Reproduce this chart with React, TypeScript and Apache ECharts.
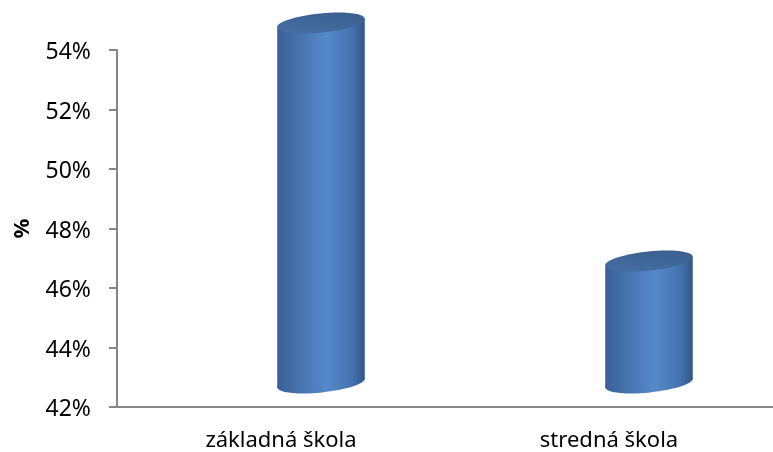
import React, { useEffect, useRef } from "react";
import * as echarts from "echarts";

const categories = ["základná škola", "stredná škola"];
const values = [54.1, 46.1];
const yTicks = [42, 44, 46, 48, 50, 52, 54];

export default function App() {
  const ref = useRef<HTMLDivElement>(null);
  useEffect(() => {
    if (!ref.current) return;
    const chart = echarts.init(ref.current, undefined, { renderer: "svg" });
    const DX = 40;
    const DY = -24;
    const RX = 44;
    const RY = 9.5;
    const TH = 0.1;
    const sideGrad = () =>
      new echarts.graphic.LinearGradient(0, 0, 1, 0, [
        { offset: 0, color: "#3a6097" },
        { offset: 0.55, color: "#5589cb" },
        { offset: 0.85, color: "#4573b0" },
        { offset: 1, color: "#325687" },
      ]);
    chart.setOption({
      animation: false,
      grid: { left: 117, right: 0, top: 50, bottom: 45, containLabel: false },
      xAxis: {
        type: "category",
        data: categories,
        axisLine: { lineStyle: { color: "#868686", width: 2 } },
        axisTick: { show: false },
        axisLabel: { fontFamily: "Noto Sans", fontSize: 22, color: "#000", margin: 20 },
      },
      yAxis: {
        type: "value",
        min: 42,
        max: 54,
        interval: 2,
        name: "%",
        nameLocation: "middle",
        nameGap: 86,
        nameTextStyle: { fontFamily: "Noto Sans", fontSize: 22, fontWeight: "bold", color: "#000" },
        axisLine: { show: true, lineStyle: { color: "#868686", width: 2 } },
        axisTick: { show: true, length: 8, lineStyle: { color: "#868686", width: 2 } },
        splitLine: { show: false },
        axisLabel: {
          fontFamily: "Noto Sans",
          fontSize: 23,
          color: "#000",
          margin: 26,
          formatter: (v: number) => (yTicks.includes(v) ? v + "%" : ""),
        },
      },
      series: [
        {
          type: "custom",
          data: values.map((v, i) => [i, v]),
          renderItem: (params: any, api: any) => {
            const top = api.coord([api.value(0), api.value(1)]);
            const base = api.coord([api.value(0), 42]);
            const cx = top[0] + DX;
            const yTop = top[1] + DY;
            const yBot = base[1] + DY;
            const sx = RX * Math.cos(TH);
            const sy = RX * Math.sin(TH);
            return {
              type: "group",
              children: [
                {
                  type: "ellipse",
                  x: cx,
                  y: yBot,
                  rotation: TH,
                  shape: { cx: 0, cy: 0, rx: RX, ry: RY },
                  style: { fill: sideGrad() },
                },
                {
                  type: "polygon",
                  shape: {
                    points: [
                      [cx - sx, yTop + sy],
                      [cx + sx, yTop - sy],
                      [cx + sx, yBot - sy],
                      [cx - sx, yBot + sy],
                    ],
                  },
                  style: { fill: sideGrad() },
                },
                {
                  type: "ellipse",
                  x: cx,
                  y: yTop,
                  rotation: TH,
                  shape: { cx: 0, cy: 0, rx: RX, ry: RY },
                  style: {
                    fill: new echarts.graphic.LinearGradient(0, 1, 1, 0, [
                      { offset: 0, color: "#4670a6" },
                      { offset: 1, color: "#395d8c" },
                    ]),
                  },
                },
              ],
            };
          },
        },
      ],
    });
    return () => chart.dispose();
  }, []);
  return (
    <div
      ref={ref}
      style={{ position: "fixed", left: 0, top: 0, width: 773, height: 452 }}
    />
  );
}
